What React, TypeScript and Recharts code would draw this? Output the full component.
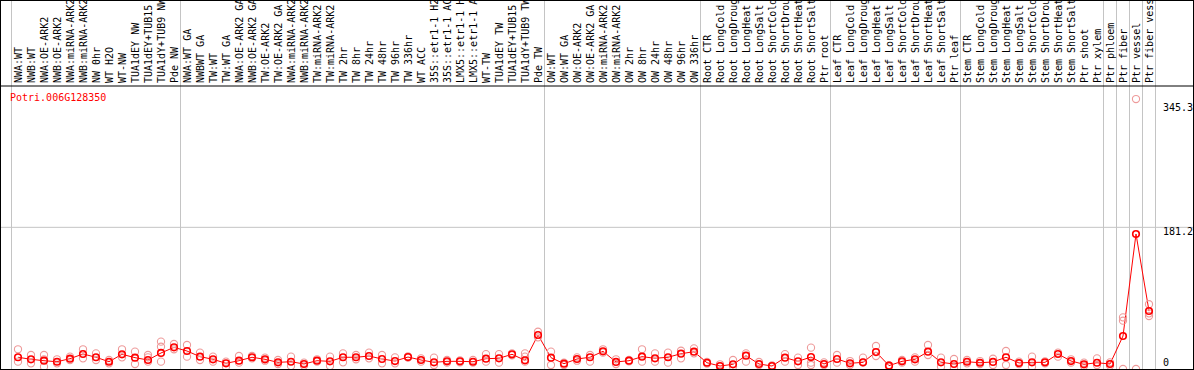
import React from 'react';
import { ComposedChart, Line, XAxis, YAxis, ReferenceLine } from 'recharts';

const geneId = 'Potri.006G128350';

const categories = [
  'NWA:WT', 'NWB:WT', 'NWA:OE-ARK2', 'NWB:OE-ARK2', 'NWA:miRNA-ARK2', 'NWB:miRNA-ARK2', 'NW 0hr', 'WT H2O', 'WT-NW',
  'TUA1dEY NW', 'TUA1dEY+TUB15 NW', 'TUA1dY+TUB9 NW', 'Pde NW',
  'NWA:WT GA', 'NWBWT GA', 'TW:WT', 'TW:WT GA', 'NWA:OE-ARK2 GA', 'NWB:OE-ARK2 GA', 'TW:OE-ARK2', 'TW:OE-ARK2 GA',
  'NWA:miRNA-ARK2', 'NWB:miRNA-ARK2', 'TW:miRNA-ARK2', 'TW:miRNA-ARK2', 'TW 2hr', 'TW 8hr', 'TW 24hr', 'TW 48hr',
  'TW 96hr', 'TW 336hr', 'WT ACC', '35S::etr1-1 H2O', '35S::etr1-1 ACC', 'LMX5::etr1-1 H2O', 'LMX5::etr1-1 ACC',
  'WT-TW', 'TUA1dEY TW', 'TUA1dEY+TUB15 TW', 'TUA1dY+TUB9 TW', 'Pde TW',
  'OW:WT', 'OW:WT GA', 'OW:OE-ARK2', 'OW:OE-ARK2 GA', 'OW:miRNA-ARK2', 'OW:miRNA-ARK2', 'OW 2hr', 'OW 8hr', 'OW 24hr',
  'OW 48hr', 'OW 96hr', 'OW 336hr',
  'Root CTR', 'Root LongCold', 'Root LongDrought', 'Root LongHeat', 'Root LongSalt', 'Root ShortCold',
  'Root ShortDrought', 'Root ShortHeat', 'Root ShortSalt', 'Ptr root',
  'Leaf CTR', 'Leaf LongCold', 'Leaf LongDrought', 'Leaf LongHeat', 'Leaf LongSalt', 'Leaf ShortCold',
  'Leaf ShortDrought', 'Leaf ShortHeat', 'Leaf ShortSalt', 'Ptr leaf',
  'Stem CTR', 'Stem LongCold', 'Stem LongDrought', 'Stem LongHeat', 'Stem LongSalt', 'Stem ShortCold',
  'Stem ShortDrought', 'Stem ShortHeat', 'Stem ShortSalt', 'Ptr shoot', 'Ptr xylem',
  'Ptr phloem', 'Ptr fiber', 'Ptr vessel', 'Ptr fiber vessel',
];

const meanValues = [
  15.0, 12.4, 10.6, 9.3, 13.2, 19.2, 15.0, 9.3, 18.8, 14.5, 11.5, 20.5, 27.7,
  23.0, 15.8, 12.4, 7.3, 10.6, 15.0, 12.4, 8.5, 9.3, 6.4, 10.6, 9.8, 15.0, 15.0, 16.6, 12.8, 10.2, 15.3,
  11.5, 8.5, 9.8, 9.8, 9.3, 13.2, 13.7, 18.8, 11.1, 43.5,
  14.5, 6.8, 12.8, 15.0, 22.6, 9.0, 10.6, 15.8, 13.7, 15.0, 19.6, 22.1,
  8.0, 3.8, 6.0, 17.0, 6.4, 3.8, 14.5, 9.8, 15.3, 6.4,
  12.8, 7.3, 8.5, 21.7, 4.3, 9.8, 12.4, 22.1, 8.5, 6.4,
  9.3, 8.0, 9.0, 15.0, 7.7, 8.5, 8.5, 19.2, 10.2, 6.0, 8.0,
  6.4, 42.2, 172.7, 74.2,
];

const rep1 = [
  25.2, 17.9, 17.9, 12.4, 15.8, 25.2, 20.0, 11.5, 25.2, 22.2, 17.9, 35.0, 32.0,
  30.7, 20.9, 15.8, 9.4, 16.6, 16.6, 14.5, 11.5, 15.8, 8.1, 12.4, 15.8, 20.0, 17.9, 20.9, 17.9, 14.9, 16.0,
  13.6, 14.5, 11.5, 11.0, 11.5, 19.1, 19.1, 20.0, 20.0, 47.7,
  22.2, 8.1, 14.9, 17.9, 25.2, 12.4, 11.5, 25.2, 20.0, 20.9, 23.4, 26.4,
  9.0, 6.0, 11.5, 20.0, 9.0, 4.5, 19.1, 14.5, 27.3, 8.5,
  17.9, 10.2, 14.5, 29.5, 5.0, 11.5, 14.9, 30.7, 14.5, 12.8,
  11.5, 10.2, 13.2, 23.0, 9.4, 15.8, 9.8, 20.9, 12.4, 8.1, 13.6,
  8.5, 66.1, 345.3, 82.8,
];

const rep2 = [
  9.4, 7.2, 3.0, 7.2, 11.5, 13.6, 11.5, 7.2, 14.9, 6.4, 9.4, 28.5, 25.2,
  15.8, 11.5, 9.4, 3.0, 8.1, 13.6, 10.6, 6.4, 3.8, 4.3, 9.4, 3.8, 8.5, 12.4, 13.6, 7.2, 7.2, 14.5,
  9.4, 5.1, 8.1, 8.5, 8.1, 9.4, 8.1, 17.5, 15.8, 40.5,
  5.1, 5.1, 10.6, 9.4, 20.9, 6.4, 9.8, 9.4, 9.4, 8.1, 13.6, 20.0,
  7.0, 3.0, 3.0, 9.4, 5.0, 3.0, 9.4, 5.1, 8.1, 5.0,
  8.1, 5.0, 8.1, 16.6, 3.5, 8.1, 9.4, 17.9, 3.0, 1.3,
  7.2, 6.4, 5.1, 5.1, 6.4, 3.0, 7.2, 15.8, 8.1, 3.8, 5.1,
  4.3, 61.8, 0, 71.2,
];

const rep3 = [
  null, null, 12.4, null, null, null, null, null, null, null, 14.9, 9.4, null,
  null, null, null, null, null, null, null, null, null, null, null, null, null, null, null, null, null, null,
  null, null, null, null, null, null, null, null, 9.4, null,
  null, null, null, null, null, null, null, null, null, null, null, null,
  null, null, null, null, null, null, null, null, 5.1, null,
  null, null, null, null, null, null, null, null, null, null,
  null, null, null, null, null, null, null, null, null, null, null,
  null, 0, null, 67.8,
];

// index of the first category of each group (group separators)
const groupStarts = [0, 13, 41, 53, 63, 73, 84, 85, 86, 87];
const lastIndex = categories.length - 1;

const yTicks = [0, 181.2, 345.3];
const gridValue = 181.2;
const yDomainMax = 362;

const data = categories.map((name, i) => ({
  idx: i,
  name,
  mean: meanValues[i],
  r1: rep1[i],
  r2: rep2[i],
  r3: rep3[i],
}));

const MONO = "'DejaVu Sans Mono', monospace";
const SEP = '#c4c4c4';
const RED = '#ff0000';
const PINK = '#ee9a9a';

function CatTick(props: any) {
  const { x, y, payload } = props;
  const label = categories[Number(payload.value)] ?? '';
  return (
    <text
      x={0}
      y={0}
      transform={`translate(${x + 0.5},${y}) rotate(-90)`}
      textAnchor="start"
      dominantBaseline="central"
      fontFamily={MONO}
      fontSize={10}
      fill="#000"
    >
      {label}
    </text>
  );
}

function ValTick(props: any) {
  const { x, y, payload } = props;
  const v = Number(payload.value);
  const dy = v === 0 ? -7 : v > 300 ? 8 : 4.5;
  return (
    <text x={x} y={y + dy} textAnchor="start" dominantBaseline="central" fontFamily={MONO} fontSize={10} fill="#000">
      {String(v)}
    </text>
  );
}

function MeanDot(props: any) {
  const { cx, cy, index } = props;
  if (cx == null || cy == null || isNaN(cy)) return <g key={`m${index}`} />;
  return <circle key={`m${index}`} cx={cx} cy={cy} r={3.3} fill="none" stroke={RED} strokeWidth={1.6} />;
}

function RepDot(props: any) {
  const { cx, cy, index, dataKey } = props;
  if (cx == null || cy == null || isNaN(cy)) return <g key={`${dataKey}${index}`} />;
  return <circle key={`${dataKey}${index}`} cx={cx} cy={cy} r={3.6} fill="none" stroke={PINK} strokeWidth={1.1} />;
}

const sepShape = (p: any) => (
  <line x1={p.x1} y1={0} x2={p.x2} y2={p.y2} stroke={SEP} strokeWidth={1} />
);

export default function App() {
  return (
    <div
      style={{
        position: 'absolute',
        left: 0,
        top: 0,
        width: 1194,
        height: 370,
        border: '1px solid #000',
        boxSizing: 'border-box',
        background: '#fff',
        overflow: 'hidden',
      }}
    >
      <ComposedChart width={1192} height={368} data={data} margin={{ top: 0, right: 0, bottom: 0, left: 0 }}>
        <XAxis
          dataKey="idx"
          type="category"
          scale="band"
          orientation="top"
          height={85}
          interval={0}
          tickLine={false}
          tickSize={0}
          tickMargin={3}
          axisLine={{ stroke: '#000', strokeWidth: 1 }}
          tick={(p: any) => <CatTick {...p} />}
          padding={{ left: 10.5, right: 37.5 }}
        />
        <YAxis
          orientation="right"
          mirror
          domain={[0, yDomainMax]}
          ticks={yTicks}
          interval={0}
          allowDataOverflow
          axisLine={false}
          tickLine={false}
          tickSize={0}
          tickMargin={30}
          tick={(p: any) => <ValTick {...p} />}
        />
        <ReferenceLine y={gridValue} stroke={SEP} strokeWidth={1} />
        {groupStarts.map((g) => (
          <ReferenceLine key={`s${g}`} x={g} position="start" shape={sepShape} />
        ))}
        <ReferenceLine x={lastIndex} position="end" shape={sepShape} />
        <Line dataKey="r1" stroke="none" dot={RepDot} activeDot={false} isAnimationActive={false} legendType="none" />
        <Line dataKey="r2" stroke="none" dot={RepDot} activeDot={false} isAnimationActive={false} legendType="none" />
        <Line dataKey="r3" stroke="none" dot={RepDot} activeDot={false} isAnimationActive={false} legendType="none" />
        <Line
          dataKey="mean"
          stroke={RED}
          strokeWidth={1}
          dot={MeanDot}
          activeDot={false}
          isAnimationActive={false}
          legendType="none"
        />
      </ComposedChart>
      <div
        style={{
          position: 'absolute',
          left: 9,
          top: 91,
          fontFamily: MONO,
          fontSize: 10,
          lineHeight: '12px',
          color: RED,
          whiteSpace: 'nowrap',
        }}
      >
        {geneId}
      </div>
    </div>
  );
}
